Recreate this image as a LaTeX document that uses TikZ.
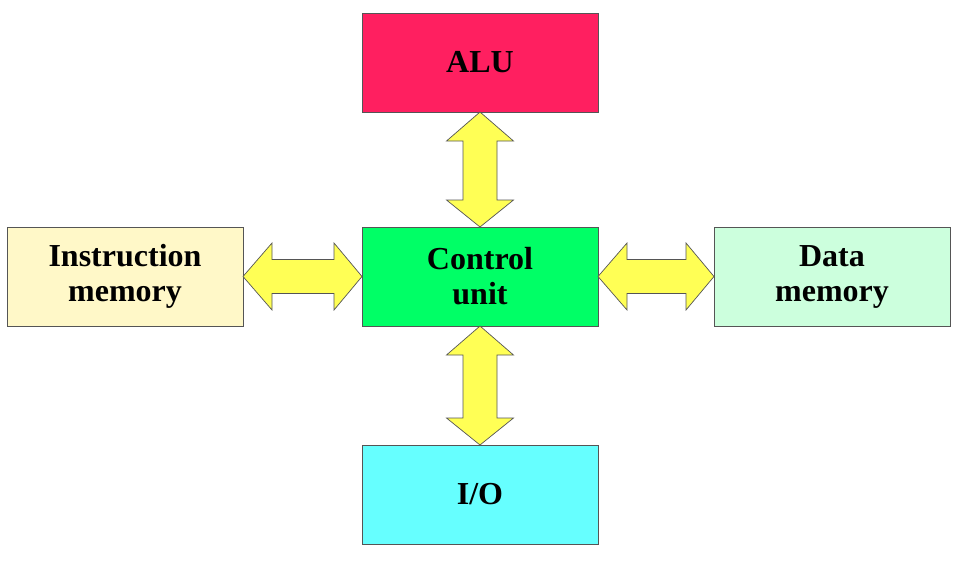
\documentclass[tikz,border=0pt]{standalone}
\usepackage{fontspec}
\setmainfont{Liberation Serif}
\usetikzlibrary{positioning}
\usetikzlibrary{calc}

\definecolor{alured}{HTML}{FF1F60}
\definecolor{ctrlgreen}{HTML}{00FF66}
\definecolor{instryellow}{HTML}{FFF8C8}
\definecolor{datagreen}{HTML}{CCFFDD}
\definecolor{iocyan}{HTML}{66FFFF}
\definecolor{arrowyellow}{HTML}{FFFF55}
\definecolor{edgegray}{HTML}{555555}

% fat double arrow, vertical: from #1.south down to #2.north
\newcommand{\vfat}[2]{%
  \draw[fatarrow] (#1.south) -- ++(-33.5,29) -- ++(16.5,0)
    -- ($(#2.north)+(-17,-27)$) -- ++(-16.5,0) -- (#2.north)
    -- ++(33.5,-27) -- ++(-16.5,0) -- ($(#1.south)+(17,29)$)
    -- ++(16.5,0) -- cycle;}
% fat double arrow, horizontal: from #1.east right to #2.west
\newcommand{\hfat}[2]{%
  \draw[fatarrow] (#1.east) -- ++(29,-33.5) -- ++(0,16.5)
    -- ($(#2.west)+(-28,-17)$) -- ++(0,-16.5) -- (#2.west)
    -- ++(-28,33.5) -- ++(0,-16.5) -- ($(#1.east)+(29,17)$)
    -- ++(0,16.5) -- cycle;}

\begin{document}
\begin{tikzpicture}[%
    x=1pt, y=-1pt,
    unitbox/.style={rectangle, align=center, draw=edgegray, line width=0.8pt,
      minimum width=236pt, minimum height=99pt, inner sep=0pt, outer sep=0pt,
      font=\bfseries\fontsize{32}{35}\selectfont},
    fatarrow/.style={fill=arrowyellow, draw=edgegray, line width=0.7pt, line join=miter}
]
\useasboundingbox (0,0) rectangle (959,560);

% boxes
\node[unitbox, fill=ctrlgreen]   (ctrl)  at (480,276.5) {Control\\unit};
\node[unitbox, fill=alured]      (alu)   [above=115pt of ctrl] {ALU};
\node[unitbox, fill=iocyan]      (io)    [below=119pt of ctrl] {I/O};
\node[unitbox, fill=instryellow] (instr) [left=119pt of ctrl] {Instruction\\memory};
\node[unitbox, fill=datagreen]   (data)  [right=116pt of ctrl] {Data\\memory};

% arrows
\vfat{alu}{ctrl}
\vfat{ctrl}{io}
\hfat{instr}{ctrl}
\hfat{ctrl}{data}

\end{tikzpicture}
\end{document}
